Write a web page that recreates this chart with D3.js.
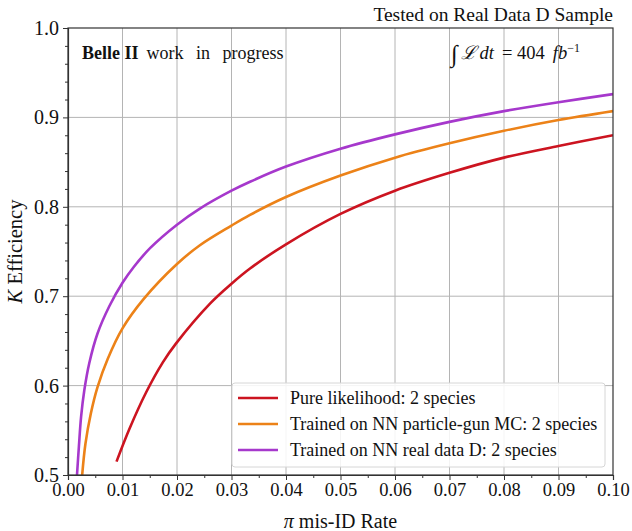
<!DOCTYPE html>
<html>
<head>
<meta charset="utf-8">
<script src="https://cdn.jsdelivr.net/npm/d3@7"></script>
<style>
  body { margin: 0; background: #fff; }
  svg text { font-family: "Liberation Serif", "DejaVu Serif", serif; fill: #111; }
</style>
</head>
<body>
<div id="chart"></div>
<script>
// values
const seriesNames = [
  "Pure likelihood: 2 species",
  "Trained on NN particle-gun MC: 2 species",
  "Trained on NN real data D: 2 species",
];
const seriesColors = ["#cc1420", "#ec8218", "#a638cc"];

const pureX = [0.0089, 0.0113, 0.0143, 0.0174, 0.0198, 0.0261, 0.03, 0.0334, 0.04, 0.05, 0.06, 0.07, 0.08, 0.09, 0.1];
const pureY = [0.515, 0.552, 0.592, 0.626, 0.647, 0.692, 0.714, 0.731, 0.758, 0.792, 0.818, 0.838, 0.855, 0.868, 0.88];

const mcX = [0.0026, 0.0032, 0.0042, 0.0054, 0.0073, 0.01, 0.0139, 0.02, 0.0242, 0.03, 0.0334, 0.04, 0.05, 0.06, 0.07, 0.08, 0.09, 0.1];
const mcY = [0.5, 0.535, 0.569, 0.598, 0.63, 0.664, 0.697, 0.736, 0.757, 0.779, 0.791, 0.811, 0.835, 0.855, 0.871, 0.885, 0.897, 0.907];

const dataX = [0.00165, 0.002, 0.0024, 0.003, 0.0039, 0.0054, 0.0076, 0.01, 0.0121, 0.0151, 0.02, 0.0242, 0.03, 0.0334, 0.04, 0.05, 0.06, 0.07, 0.08, 0.09, 0.1];
const dataY = [0.5, 0.532, 0.565, 0.595, 0.625, 0.658, 0.689, 0.715, 0.733, 0.754, 0.78, 0.798, 0.818, 0.828, 0.845, 0.865, 0.881, 0.895, 0.907, 0.917, 0.926];

const xTicks = [0, 0.01, 0.02, 0.03, 0.04, 0.05, 0.06, 0.07, 0.08, 0.09, 0.1];
const yTicks = [0.5, 0.6, 0.7, 0.8, 0.9, 1.0];

const width = 632;
const height = 531;
const margin = { top: 28, right: 19, bottom: 56, left: 68 };

const svg = d3.select("#chart").append("svg")
  .attr("width", width)
  .attr("height", height);

const x = d3.scaleLinear().domain([0, 0.1]).range([margin.left, width - margin.right]);
const y = d3.scaleLinear().domain([0.5, 1.0]).range([height - margin.bottom, margin.top]);

// grid
svg.append("g")
  .selectAll("line")
  .data(xTicks.slice(1, -1))
  .join("line")
  .attr("x1", (d) => x(d)).attr("x2", (d) => x(d))
  .attr("y1", y(0.5)).attr("y2", y(1.0))
  .attr("stroke", "#b4b4b4").attr("stroke-width", 1);

svg.append("g")
  .selectAll("line")
  .data(yTicks.slice(1, -1))
  .join("line")
  .attr("x1", x(0)).attr("x2", x(0.1))
  .attr("y1", (d) => y(d)).attr("y2", (d) => y(d))
  .attr("stroke", "#b4b4b4").attr("stroke-width", 1);

// curves
const series = [
  pureX.map((v, i) => [v, pureY[i]]),
  mcX.map((v, i) => [v, mcY[i]]),
  dataX.map((v, i) => [v, dataY[i]]),
];

svg.append("clipPath").attr("id", "plot-clip")
  .append("rect")
  .attr("x", x(0)).attr("y", y(1.0))
  .attr("width", x(0.1) - x(0)).attr("height", y(0.5) - y(1.0));

const line = d3.line()
  .x((d) => x(d[0]))
  .y((d) => y(d[1]))
  .curve(d3.curveCatmullRom.alpha(0.5));

svg.append("g")
  .attr("clip-path", "url(#plot-clip)")
  .selectAll("path")
  .data(series)
  .join("path")
  .attr("fill", "none")
  .attr("stroke", (d, i) => seriesColors[i])
  .attr("stroke-width", 2.6)
  .attr("stroke-linejoin", "round")
  .attr("d", line);

// axes
svg.append("g")
  .attr("class", "x-axis")
  .attr("transform", `translate(0,${y(0.5)})`)
  .call(d3.axisBottom(x).tickValues(xTicks).tickFormat(d3.format(".2f")).tickSize(5).tickPadding(3));
svg.append("g")
  .attr("transform", `translate(0,${y(0.5)})`)
  .call(d3.axisBottom(x).tickValues(d3.range(0.005, 0.1, 0.01)).tickFormat("").tickSize(3))
  .call((g) => g.select(".domain").remove());

svg.append("g")
  .attr("class", "y-axis")
  .attr("transform", `translate(${x(0)},0)`)
  .call(d3.axisLeft(y).tickValues(yTicks).tickFormat(d3.format(".1f")).tickSize(5).tickPadding(4));
svg.append("g")
  .attr("transform", `translate(${x(0)},0)`)
  .call(d3.axisLeft(y).tickValues(d3.range(0.52, 1.0, 0.02).filter((v) => Math.abs(v * 10 - Math.round(v * 10)) > 0.01)).tickFormat("").tickSize(3))
  .call((g) => g.select(".domain").remove());

svg.selectAll(".x-axis .tick text")
  .style("font-family", '"Liberation Serif", serif')
  .style("font-size", "18.5px")
  .attr("fill", "#222");
svg.selectAll(".y-axis .tick text")
  .style("font-family", '"Liberation Serif", serif')
  .style("font-size", "20px")
  .attr("fill", "#222");
svg.selectAll(".tick line").attr("stroke", "#333");
svg.selectAll(".domain").attr("stroke", "#333").attr("stroke-width", 1.2);

// top and right spines
svg.append("rect")
  .attr("x", x(0)).attr("y", y(1.0))
  .attr("width", x(0.1) - x(0)).attr("height", y(0.5) - y(1.0))
  .attr("fill", "none").attr("stroke", "#333").attr("stroke-width", 1.2);

// axis labels
svg.append("text")
  .attr("x", (x(0) + x(0.1)) / 2)
  .attr("y", 528)
  .attr("text-anchor", "middle")
  .style("font-size", "20px")
  .html('<tspan font-style="italic">π</tspan> mis-ID Rate');

svg.append("text")
  .attr("transform", `translate(22,${(y(0.5) + y(1.0)) / 2}) rotate(-90)`)
  .attr("text-anchor", "middle")
  .style("font-size", "20.5px")
  .html('<tspan font-style="italic">K</tspan> Efficiency');

// title + annotations
svg.append("text")
  .attr("x", x(0.1))
  .attr("y", 21)
  .attr("text-anchor", "end")
  .style("font-size", "19.5px")
  .text("Tested on Real Data D Sample");

svg.append("text")
  .attr("x", 82)
  .attr("y", 59)
  .style("font-size", "18px")
  .html('<tspan font-weight="bold">Belle II</tspan><tspan dx="8" word-spacing="8">work in progress</tspan>');

svg.append("text")
  .attr("x", 451)
  .attr("y", 59)
  .style("font-size", "18.5px")
  .html('<tspan font-size="24px" dy="3">∫</tspan><tspan dx="3" dy="-3" font-style="italic">ℒ</tspan><tspan dx="4" font-style="italic">dt</tspan><tspan dx="8">= 404</tspan><tspan dx="8" font-style="italic">fb</tspan><tspan font-size="12px" dy="-7">−1</tspan>');

// legend
const legend = svg.append("g").attr("transform", "translate(232,383)");
legend.append("rect")
  .attr("width", 373).attr("height", 84)
  .attr("rx", 3)
  .attr("fill", "#fff").attr("fill-opacity", 0.85)
  .attr("stroke", "#d6d6d6");

const items = legend.selectAll("g.item")
  .data(seriesNames)
  .join("g")
  .attr("transform", (d, i) => `translate(0,${15 + i * 26})`);
items.append("line")
  .attr("x1", 6).attr("x2", 46)
  .attr("stroke", (d, i) => seriesColors[i])
  .attr("stroke-width", 2.6);
items.append("text")
  .attr("x", 58)
  .attr("dy", "0.33em")
  .style("font-size", "18px")
  .text((d) => d);
</script>
</body>
</html>
